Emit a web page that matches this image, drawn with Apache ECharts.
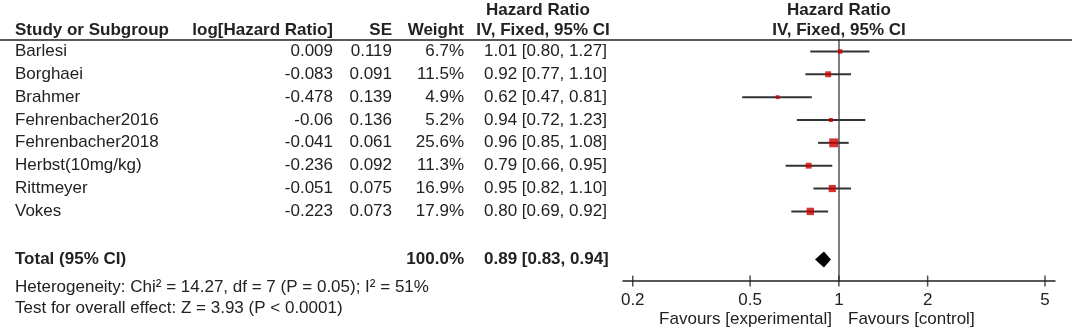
<!DOCTYPE html>
<html>
<head>
<meta charset="utf-8">
<script src="https://cdn.jsdelivr.net/npm/echarts@6/dist/echarts.min.js"></script>
<style>
html, body { margin: 0; padding: 0; background: #fff; }
#forest { width: 1072px; height: 329px; }
</style>
</head>
<body>
<div id="forest"></div>
<script>
// study rows
var studies = ['Barlesi', 'Borghaei', 'Brahmer', 'Fehrenbacher2016', 'Fehrenbacher2018', 'Herbst(10mg/kg)', 'Rittmeyer', 'Vokes'];
var logHR = [0.009, -0.083, -0.478, -0.06, -0.041, -0.236, -0.051, -0.223];
var se = [0.119, 0.091, 0.139, 0.136, 0.061, 0.092, 0.075, 0.073];
var weight = [6.7, 11.5, 4.9, 5.2, 25.6, 11.3, 16.9, 17.9];
var hr = [1.01, 0.92, 0.62, 0.94, 0.96, 0.79, 0.95, 0.80];
var lo = [0.80, 0.77, 0.47, 0.72, 0.85, 0.66, 0.82, 0.69];
var hi = [1.27, 1.10, 0.81, 1.23, 1.08, 0.95, 1.10, 0.92];
// pooled result
var totalWeight = 100.0;
var totalHR = [0.89, 0.83, 0.94];
var heterogeneity = 'Heterogeneity: Chi\u00b2 = 14.27, df = 7 (P = 0.05); I\u00b2 = 51%';
var overallEffect = 'Test for overall effect: Z = 3.93 (P < 0.0001)';
// axis
var tickValues = [0.2, 0.5, 1, 2, 5];

(function () {
    var FONT = '"Liberation Sans", Arial, sans-serif';
    var FS = 17;
    var INK = '#222';
    var TOTAL_ROW = 9.1;
    var AXIS_ROW = 10.05;

    function log10(v) { return Math.log(v) / Math.LN10; }
    function ci(e, l, h) { return e.toFixed(2) + ' [' + l.toFixed(2) + ', ' + h.toFixed(2) + ']'; }

    // text table (grid 0 works in page pixels horizontally, rows vertically)
    var texts = [];
    function t(x, row, text, align, bold) {
        texts.push({ x: x, row: row, text: text, align: align, bold: !!bold });
    }
    t(15, -0.94, 'Study or Subgroup', 'left', true);
    t(333, -0.94, 'log[Hazard Ratio]', 'right', true);
    t(392, -0.94, 'SE', 'right', true);
    t(464, -0.94, 'Weight', 'right', true);
    t(538, -1.81, 'Hazard Ratio', 'center', true);
    t(543, -0.94, 'IV, Fixed, 95% CI', 'center', true);
    t(839, -1.81, 'Hazard Ratio', 'center', true);
    t(839, -0.94, 'IV, Fixed, 95% CI', 'center', true);
    for (var i = 0; i < studies.length; i++) {
        t(15, i, studies[i], 'left');
        t(333, i, String(logHR[i]), 'right');
        t(392, i, se[i].toFixed(3), 'right');
        t(464, i, weight[i].toFixed(1) + '%', 'right');
        t(484, i, ci(hr[i], lo[i], hi[i]), 'left');
    }
    t(15, TOTAL_ROW, 'Total (95% CI)', 'left', true);
    t(464, TOTAL_ROW, totalWeight.toFixed(1) + '%', 'right', true);
    t(484, TOTAL_ROW, ci(totalHR[0], totalHR[1], totalHR[2]), 'left', true);
    t(15, 10.31, heterogeneity, 'left');
    t(15, 11.23, overallEffect, 'left');
    t(832, 11.71, 'Favours [experimental]', 'right');
    t(848, 11.71, 'Favours [control]', 'left');

    var ciData = studies.map(function (s, i) { return [log10(lo[i]), log10(hi[i]), i]; });
    var pointData = studies.map(function (s, i) { return [log10(hr[i]), i]; });

    var myChart = echarts.init(document.getElementById('forest'));
    var option = {
        animation: false,
        grid: [
            { left: 0, right: 0, top: 0, bottom: 0 },
            { left: 623, width: 432, top: 40, height: 241.1 }
        ],
        xAxis: [
            { gridIndex: 0, type: 'value', min: 0, max: 1072, show: false },
            {
                gridIndex: 1, type: 'value', min: -0.732, max: 0.733,
                axisLine: { onZero: false, lineStyle: { color: INK, width: 1.5 } },
                axisTick: { show: false },
                splitLine: { show: false },
                axisLabel: {
                    customValues: tickValues.map(log10),
                    margin: 11,
                    color: INK,
                    fontSize: FS,
                    fontFamily: FONT,
                    formatter: function (v) { return String(Math.round(Math.pow(10, v) * 10) / 10); }
                }
            }
        ],
        yAxis: [
            { gridIndex: 0, type: 'value', min: -2.25, max: 12.15, inverse: true, show: false },
            {
                gridIndex: 1, type: 'value', min: -0.5, max: AXIS_ROW, inverse: true,
                axisLine: { show: true, onZero: true, lineStyle: { color: '#555', width: 1.5 } },
                axisTick: { show: false },
                axisLabel: { show: false },
                splitLine: { show: false }
            }
        ],
        series: [
            {
                // header rule
                type: 'custom', xAxisIndex: 0, yAxisIndex: 0,
                data: [[0, -0.5]],
                renderItem: function (params, api) {
                    var a = api.coord([0, -0.5]), b = api.coord([1072, -0.5]);
                    return { type: 'line', shape: { x1: a[0], y1: a[1], x2: b[0], y2: b[1] }, style: { stroke: INK, lineWidth: 1.5 } };
                }
            },
            {
                type: 'custom', xAxisIndex: 0, yAxisIndex: 0,
                data: texts.map(function (d) { return [d.x, d.row]; }),
                renderItem: function (params, api) {
                    var d = texts[params.dataIndex];
                    var p = api.coord([d.x, d.row]);
                    return {
                        type: 'text', x: p[0], y: p[1],
                        style: {
                            text: d.text, align: d.align, verticalAlign: 'middle',
                            font: (d.bold ? 'bold ' : '') + FS + 'px ' + FONT, fill: INK
                        }
                    };
                }
            },
            {
                // confidence intervals
                type: 'custom', xAxisIndex: 1, yAxisIndex: 1, clip: false,
                data: ciData,
                renderItem: function (params, api) {
                    var a = api.coord([api.value(0), api.value(2)]);
                    var b = api.coord([api.value(1), api.value(2)]);
                    return { type: 'line', shape: { x1: a[0], y1: a[1], x2: b[0], y2: b[1] }, style: { stroke: '#333', lineWidth: 2 } };
                }
            },
            {
                type: 'scatter', xAxisIndex: 1, yAxisIndex: 1, clip: false,
                symbol: 'rect',
                symbolSize: function (val, params) { return 1.75 * Math.sqrt(weight[params.dataIndex]); },
                itemStyle: { color: '#cc0000' },
                z: 5,
                data: pointData
            },
            {
                // pooled diamond
                type: 'custom', xAxisIndex: 1, yAxisIndex: 1, clip: false,
                data: [[log10(totalHR[0]), log10(totalHR[1]), log10(totalHR[2]), TOTAL_ROW]],
                renderItem: function (params, api) {
                    var row = api.value(3);
                    var c = api.coord([api.value(0), row]);
                    var l = api.coord([api.value(1), row]);
                    var r = api.coord([api.value(2), row]);
                    return {
                        type: 'polygon',
                        shape: { points: [[l[0], c[1]], [c[0], c[1] - 8], [r[0], c[1]], [c[0], c[1] + 8]] },
                        style: { fill: '#000' }
                    };
                }
            },
            {
                // ticks crossing the axis line
                type: 'scatter', xAxisIndex: 1, yAxisIndex: 1, clip: false,
                symbol: 'rect', symbolSize: [1.5, 11],
                itemStyle: { color: INK },
                data: tickValues.map(function (v) { return [log10(v), AXIS_ROW]; })
            }
        ]
    };
    myChart.setOption(option);
})();
</script>
</body>
</html>
